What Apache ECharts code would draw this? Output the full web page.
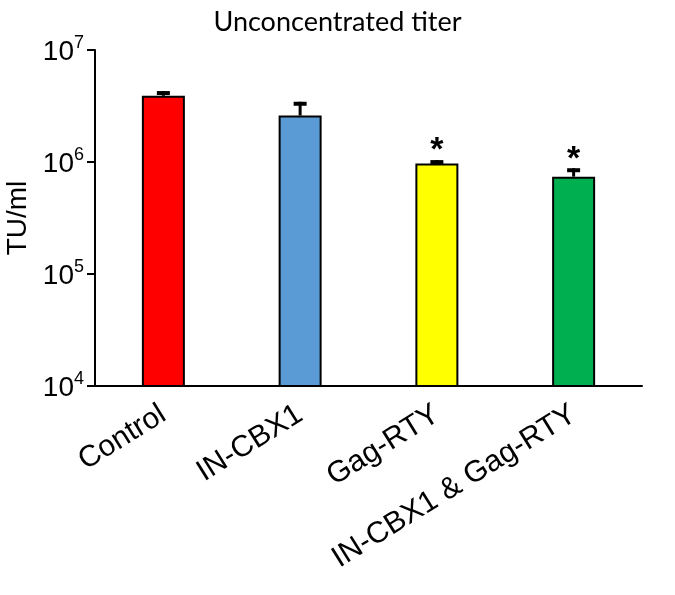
<!DOCTYPE html>
<html>
<head>
<meta charset="utf-8">
<script src="https://cdn.jsdelivr.net/npm/echarts@6/dist/echarts.min.js"></script>
<style>
  html, body { margin: 0; padding: 0; background: #fff; }
  #chart { width: 675px; height: 595px; }
</style>
</head>
<body>
<div id="chart"></div>
<script>
const categories = ["Control", "IN-CBX1", "Gag-RTY", "IN-CBX1 & Gag-RTY"];
const titers = [3.9e6, 2.6e6, 9.7e5, 7.4e5];
const errorTops = [4.3e6, 3.45e6, 1.04e6, 8.8e5];
const significant = [false, false, true, true];
const barColors = ["#ff0000", "#5b9bd5", "#ffff00", "#00b050"];

const chart = echarts.init(document.getElementById("chart"));

// error bars + stars drawn on top of the bars
function renderError(params, api) {
  const idx = api.value(0);
  const top = api.coord([idx, api.value(2)]);
  const base = api.coord([idx, api.value(1)]);
  const children = [
    { type: "rect", shape: { x: top[0] - 1.5, y: top[1], width: 3, height: base[1] - top[1] }, style: { fill: "#000" } },
    { type: "rect", shape: { x: top[0] - 6.5, y: top[1], width: 13, height: 4 }, style: { fill: "#000" } }
  ];
  if (significant[idx]) {
    children.push({
      type: "text",
      style: { text: "*", x: top[0], y: top[1] + 8, align: "center", verticalAlign: "bottom",
               font: "bold 34px 'Liberation Sans', Arial, sans-serif", fill: "#000" }
    });
  }
  return { type: "group", children: children };
}

chart.setOption({
  animation: false,
  title: {
    text: "Unconcentrated titer",
    left: "center",
    top: 4,
    textStyle: { fontFamily: "Lato, 'Open Sans', sans-serif", fontWeight: "normal", fontSize: 27, color: "#000" }
  },
  grid: { left: 95, right: 33, top: 50, bottom: 209, outerBoundsMode: "none", containLabel: false },
  xAxis: {
    type: "category",
    data: categories,
    axisLine: { lineStyle: { color: "#000", width: 2 } },
    axisTick: { inside: true, length: 8, lineStyle: { color: "#000", width: 2 } },
    axisLabel: {
      rotate: 32, margin: 26, color: "#000", fontSize: 30,
      fontFamily: "'Liberation Sans', Arial, sans-serif"
    }
  },
  yAxis: {
    type: "log",
    logBase: 10,
    min: 1e4,
    max: 1e7,
    interval: 1,
    name: "TU/ml",
    nameLocation: "middle",
    nameRotate: 90,
    nameGap: 63,
    nameTextStyle: { fontSize: 28, color: "#000", fontFamily: "'Liberation Sans', Arial, sans-serif" },
    axisLine: { show: true, lineStyle: { color: "#000", width: 2 } },
    axisTick: { show: true, length: 8, lineStyle: { color: "#000", width: 2 } },
    splitLine: { show: false },
    axisLabel: {
      margin: 11,
      formatter: function (v) {
        return "{b|10}{s|" + Math.round(Math.log10(v)) + "}";
      },
      rich: {
        b: { fontSize: 28, color: "#000", fontFamily: "'Liberation Sans', Arial, sans-serif", verticalAlign: "bottom" },
        s: { fontSize: 18, color: "#000", fontFamily: "'Liberation Sans', Arial, sans-serif", verticalAlign: "top", padding: [0, 0, 14, 0] }
      }
    }
  },
  series: [
    {
      type: "bar",
      barWidth: 43,
      data: titers.map((v, i) => ({
        value: v,
        itemStyle: { color: barColors[i], borderColor: "#000", borderWidth: 2 }
      }))
    },
    {
      type: "custom",
      renderItem: renderError,
      data: titers.map((v, i) => [i, v, errorTops[i]]),
      z: 3
    }
  ]
});
</script>
</body>
</html>
